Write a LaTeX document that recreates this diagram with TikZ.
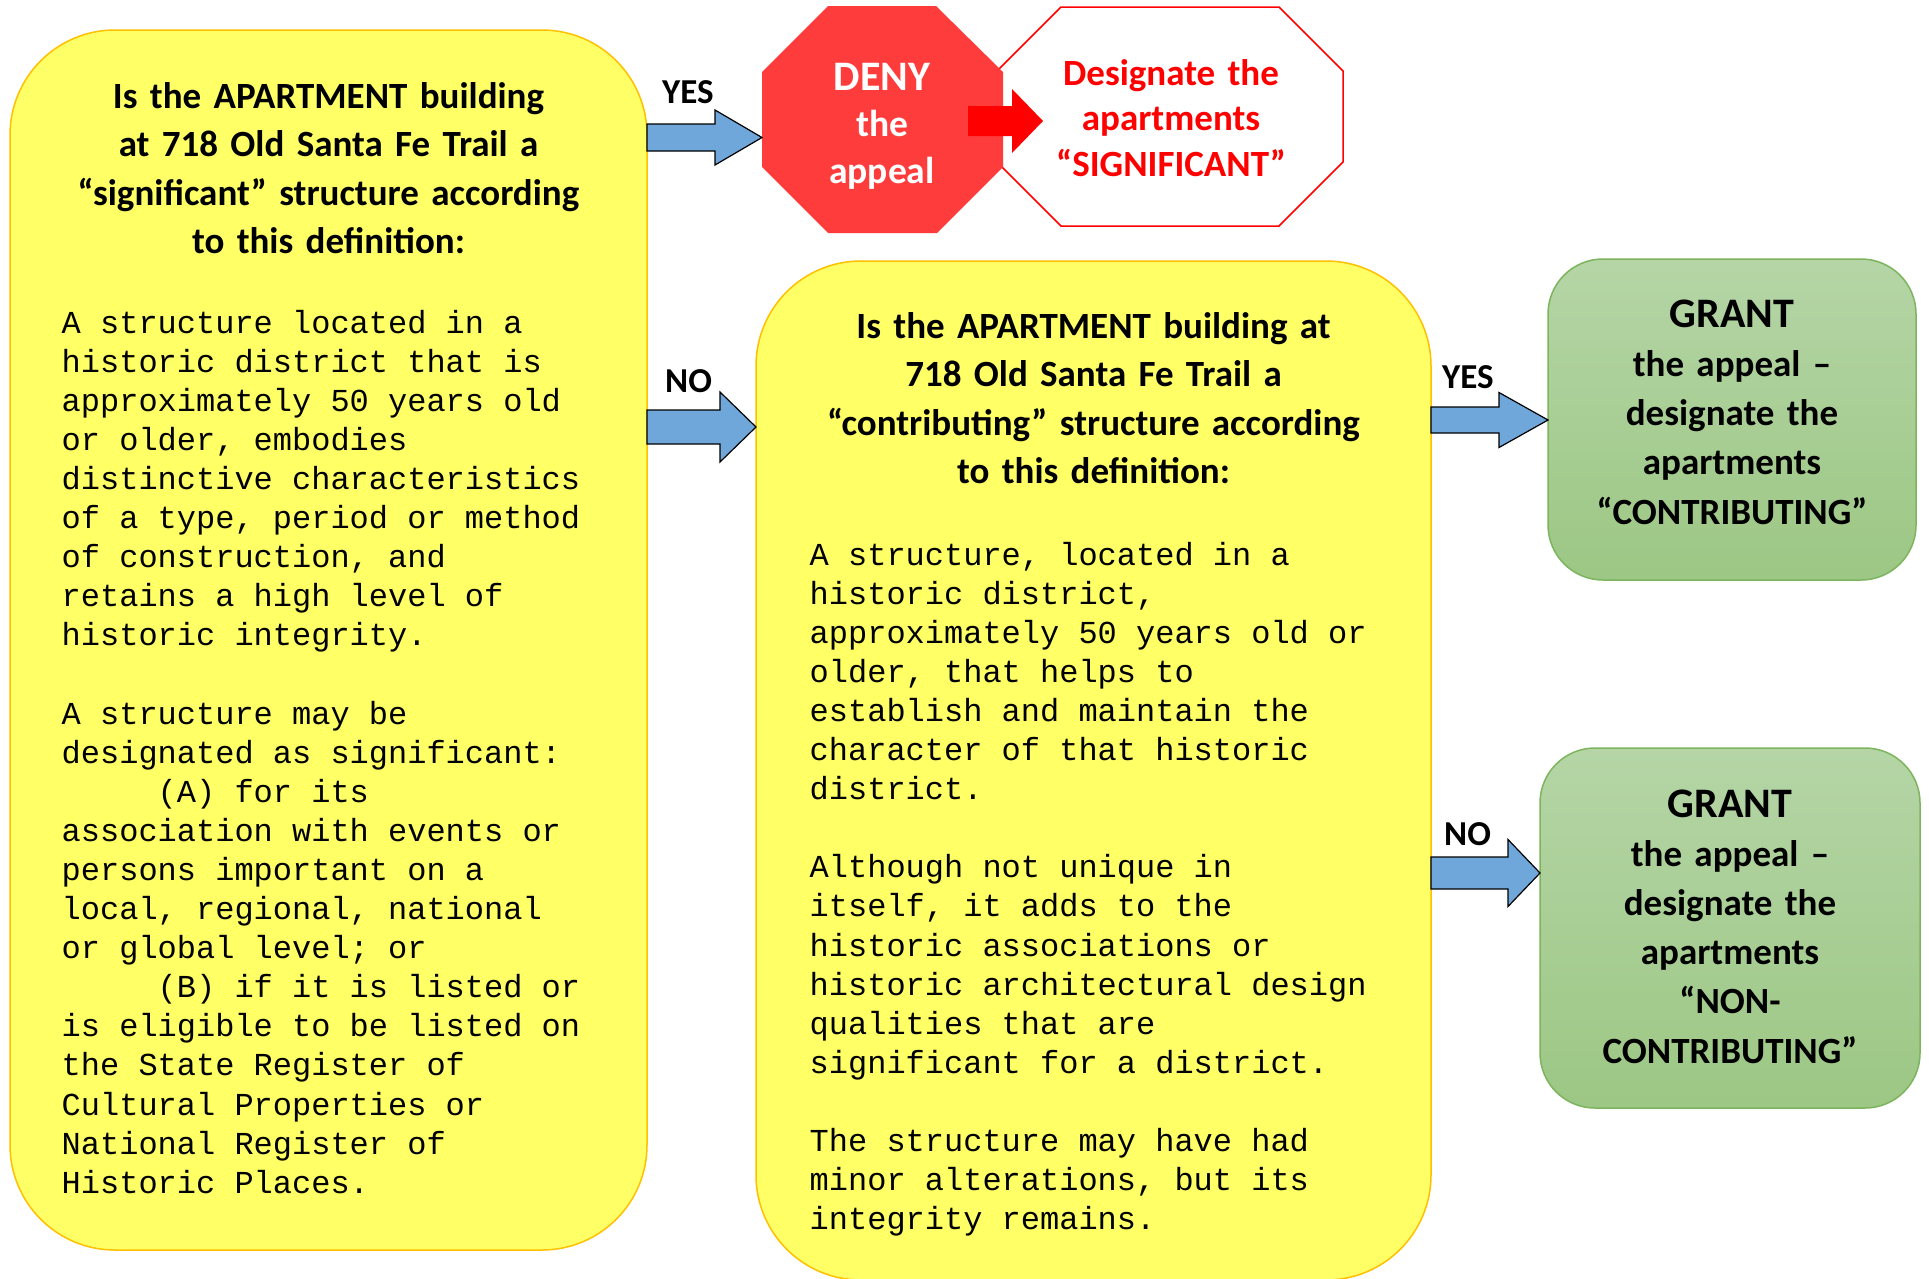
\documentclass[tikz,border=0pt]{standalone}
\usepackage{fontspec}
\setmainfont{Carlito}
\newfontfamily\monofont{Liberation Mono}
\usetikzlibrary{calc}
\definecolor{boxyellow}{HTML}{FFFF66}
\definecolor{boxyellowline}{HTML}{FFC000}
\definecolor{arrowblue}{HTML}{6FA7DA}
\definecolor{denyred}{HTML}{FF3C3C}
\definecolor{purered}{HTML}{FF0000}
\definecolor{greentop}{HTML}{B5D5A6}
\definecolor{greenbot}{HTML}{9CC784}
\definecolor{greenline}{HTML}{7DB55E}

% #1 style, #2 start, #3 tip, #4 shaft half-height, #5 head half-height, #6 head length
\newcommand\blockarrow[6]{%
  \path[#1] let \p1=(#2), \p2=(#3) in
   (\x1,\y1+#4) -- (\x2-#6,\y1+#4) -- (\x2-#6,\y1+#5) -- (\x2,\y1)
   -- (\x2-#6,\y1-#5) -- (\x2-#6,\y1-#4) -- (\x1,\y1-#4) -- cycle;}

\newcommand\monosetup{\monofont\fontsize{32}{39.1}\selectfont\frenchspacing}
\newcommand\monospaces{\spaceskip=\fontcharwd\font`0\relax\xspaceskip=\spaceskip}

\tikzset{
  ybox/.style={draw=boxyellowline, fill=boxyellow, line width=1.5pt, rounded corners=105pt, inner sep=0pt, outer sep=0pt},
  gbox/.style={draw=greenline, top color=greentop, bottom color=greenbot, line width=1.5pt, rounded corners=55pt, inner sep=0pt, outer sep=0pt},
  holder/.style={inner sep=0pt, outer sep=0pt},
  bluearrow/.style={fill=arrowblue, draw=black, line width=1.2pt, line join=miter},
  redarrow/.style={fill=purered},
  titletext/.style={font=\bfseries\fontsize{37}{48.6}\selectfont, align=center, text width=640pt, inner sep=0pt, anchor=base},
  monotext/.style={font=\monosetup, align=left, inner sep=0pt, anchor=base west},
  lbl/.style={font=\bfseries\fontsize{35}{40}\selectfont, inner sep=0pt, anchor=base west},
  gtext/.style={font=\bfseries\fontsize{37}{49.3}\selectfont, align=center, text width=360pt, inner sep=0pt, anchor=base},
}

\begin{document}
\begin{tikzpicture}[x=1pt,y=-1pt]
\useasboundingbox (0,0) rectangle (1929,1278);
\fill[white] (0,0) rectangle (1929,1278);

% boxes
\node[ybox, minimum width=637pt, minimum height=1220pt] (q1) at (328.5,640) {};
\node[ybox, minimum width=675pt, minimum height=1019pt] (q2) at (1093.5,770.5) {};
\node[gbox, minimum width=368pt, minimum height=321pt] (g1) at (1732,419.5) {};
\node[gbox, minimum width=380pt, minimum height=360pt] (g2) at (1730,928) {};
\node[holder, minimum width=241pt, minimum height=227pt] (deny) at (882.5,119.5) {};
\node[holder, minimum width=346pt, minimum height=219pt] (sig) at (1170,116.5) {};

% octagons
\filldraw[fill=white, draw=purered, line width=1.5pt]
  ([xshift=64pt]sig.north west) -- ([xshift=-64pt]sig.north east) -- ([yshift=-64pt]sig.north east)
  -- ([yshift=64pt]sig.south east) -- ([xshift=-64pt]sig.south east) -- ([xshift=64pt]sig.south west)
  -- ([yshift=64pt]sig.south west) -- ([yshift=-64pt]sig.north west) -- cycle;
\fill[denyred]
  ([xshift=66pt]deny.north west) -- ([xshift=-67pt]deny.north east) -- ([yshift=-66pt]deny.north east)
  -- ([yshift=66pt]deny.south east) -- ([xshift=-66pt]deny.south east) -- ([xshift=66pt]deny.south west)
  -- ([yshift=66pt]deny.south west) -- ([yshift=-66pt]deny.north west) -- cycle;

% connectors
\blockarrow{redarrow}{$(deny.east)+(-35,1.5)$}{$(sig.west)+(46,0)$}{15pt}{32pt}{31pt}
\blockarrow{bluearrow}{q1.east |- 0,137.5}{deny.west |- 0,137.5}{13.5pt}{27.5pt}{47pt}
\blockarrow{bluearrow}{q1.east |- 0,427}{q2.west |- 0,427}{17pt}{35pt}{36pt}
\blockarrow{bluearrow}{q2.east |- 0,420}{g1.west |- 0,420}{13pt}{27.5pt}{49pt}
\blockarrow{bluearrow}{q2.east |- 0,873}{g2.west |- 0,873}{16pt}{33.5pt}{32pt}

% labels
\node[lbl] (yes1) at (662,103) {YES};
\node[lbl] (no1) at (665,392) {NO};
\node[lbl] (yes2) at (1442,388) {YES};
\node[lbl] (no2) at (1444,845) {NO};

% texts
\node[titletext] (q1t) at (328.5,108) {Is the APARTMENT building\\ at 718 Old Santa Fe Trail a\\ “significant” structure according\\ to this definition:};
\node[monotext, text width=590pt] (q1d) at (61.5,333) {\monospaces A structure located in a\\
historic district that is\\
approximately 50 years old\\
or older, embodies\\
distinctive characteristics\\
of a type, period or method\\
of construction, and\\
retains a high level of\\
historic integrity.\\
\mbox{}\\
A structure may be\\
designated as significant:\\
\phantom{00000}(A) for its\\
association with events or\\
persons important on a\\
local, regional, national\\
or global level; or\\
\phantom{00000}(B) if it is listed or\\
is eligible to be listed on\\
the State Register of\\
Cultural Properties or\\
National Register of\\
Historic Places.};

\node[titletext] (q2t) at (1093.5,338) {Is the APARTMENT building at\\ 718 Old Santa Fe Trail a\\ “contributing” structure according\\ to this definition:};
\node[monotext, text width=610pt] (q2d) at (809.5,565) {\monospaces A structure, located in a\\
historic district,\\
approximately 50 years old or\\
older, that helps to\\
establish and maintain the\\
character of that historic\\
district.\\
\mbox{}\\
Although not unique in\\
itself, it adds to the\\
historic associations or\\
historic architectural design\\
qualities that are\\
significant for a district.\\
\mbox{}\\
The structure may have had\\
minor alterations, but its\\
integrity remains.};

\node[font=\bfseries\fontsize{37.5}{46.5}\selectfont, text=white, align=center, text width=230pt, inner sep=0pt, anchor=base] (denyt) at (882,90) {{\fontsize{42}{46.5}\selectfont DENY}\\ the\\ appeal};
\node[font=\bfseries\fontsize{37}{45.5}\selectfont, text=purered, align=center, text width=300pt, inner sep=0pt, anchor=base] (sigt) at (1171,85) {Designate the\\ apartments\\ “SIGNIFICANT”};

\node[gtext] (g1t) at (1732,327) {{\fontsize{42}{49.3}\selectfont GRANT}\\ the appeal –\\ designate the\\ apartments\\ “CONTRIBUTING”};
\node[gtext, font=\bfseries\fontsize{37}{49.2}\selectfont] (g2t) at (1730,817) {{\fontsize{42}{49.2}\selectfont GRANT}\\ the appeal –\\ designate the\\ apartments\\ “NON-\\ CONTRIBUTING”};
\end{tikzpicture}
\end{document}
